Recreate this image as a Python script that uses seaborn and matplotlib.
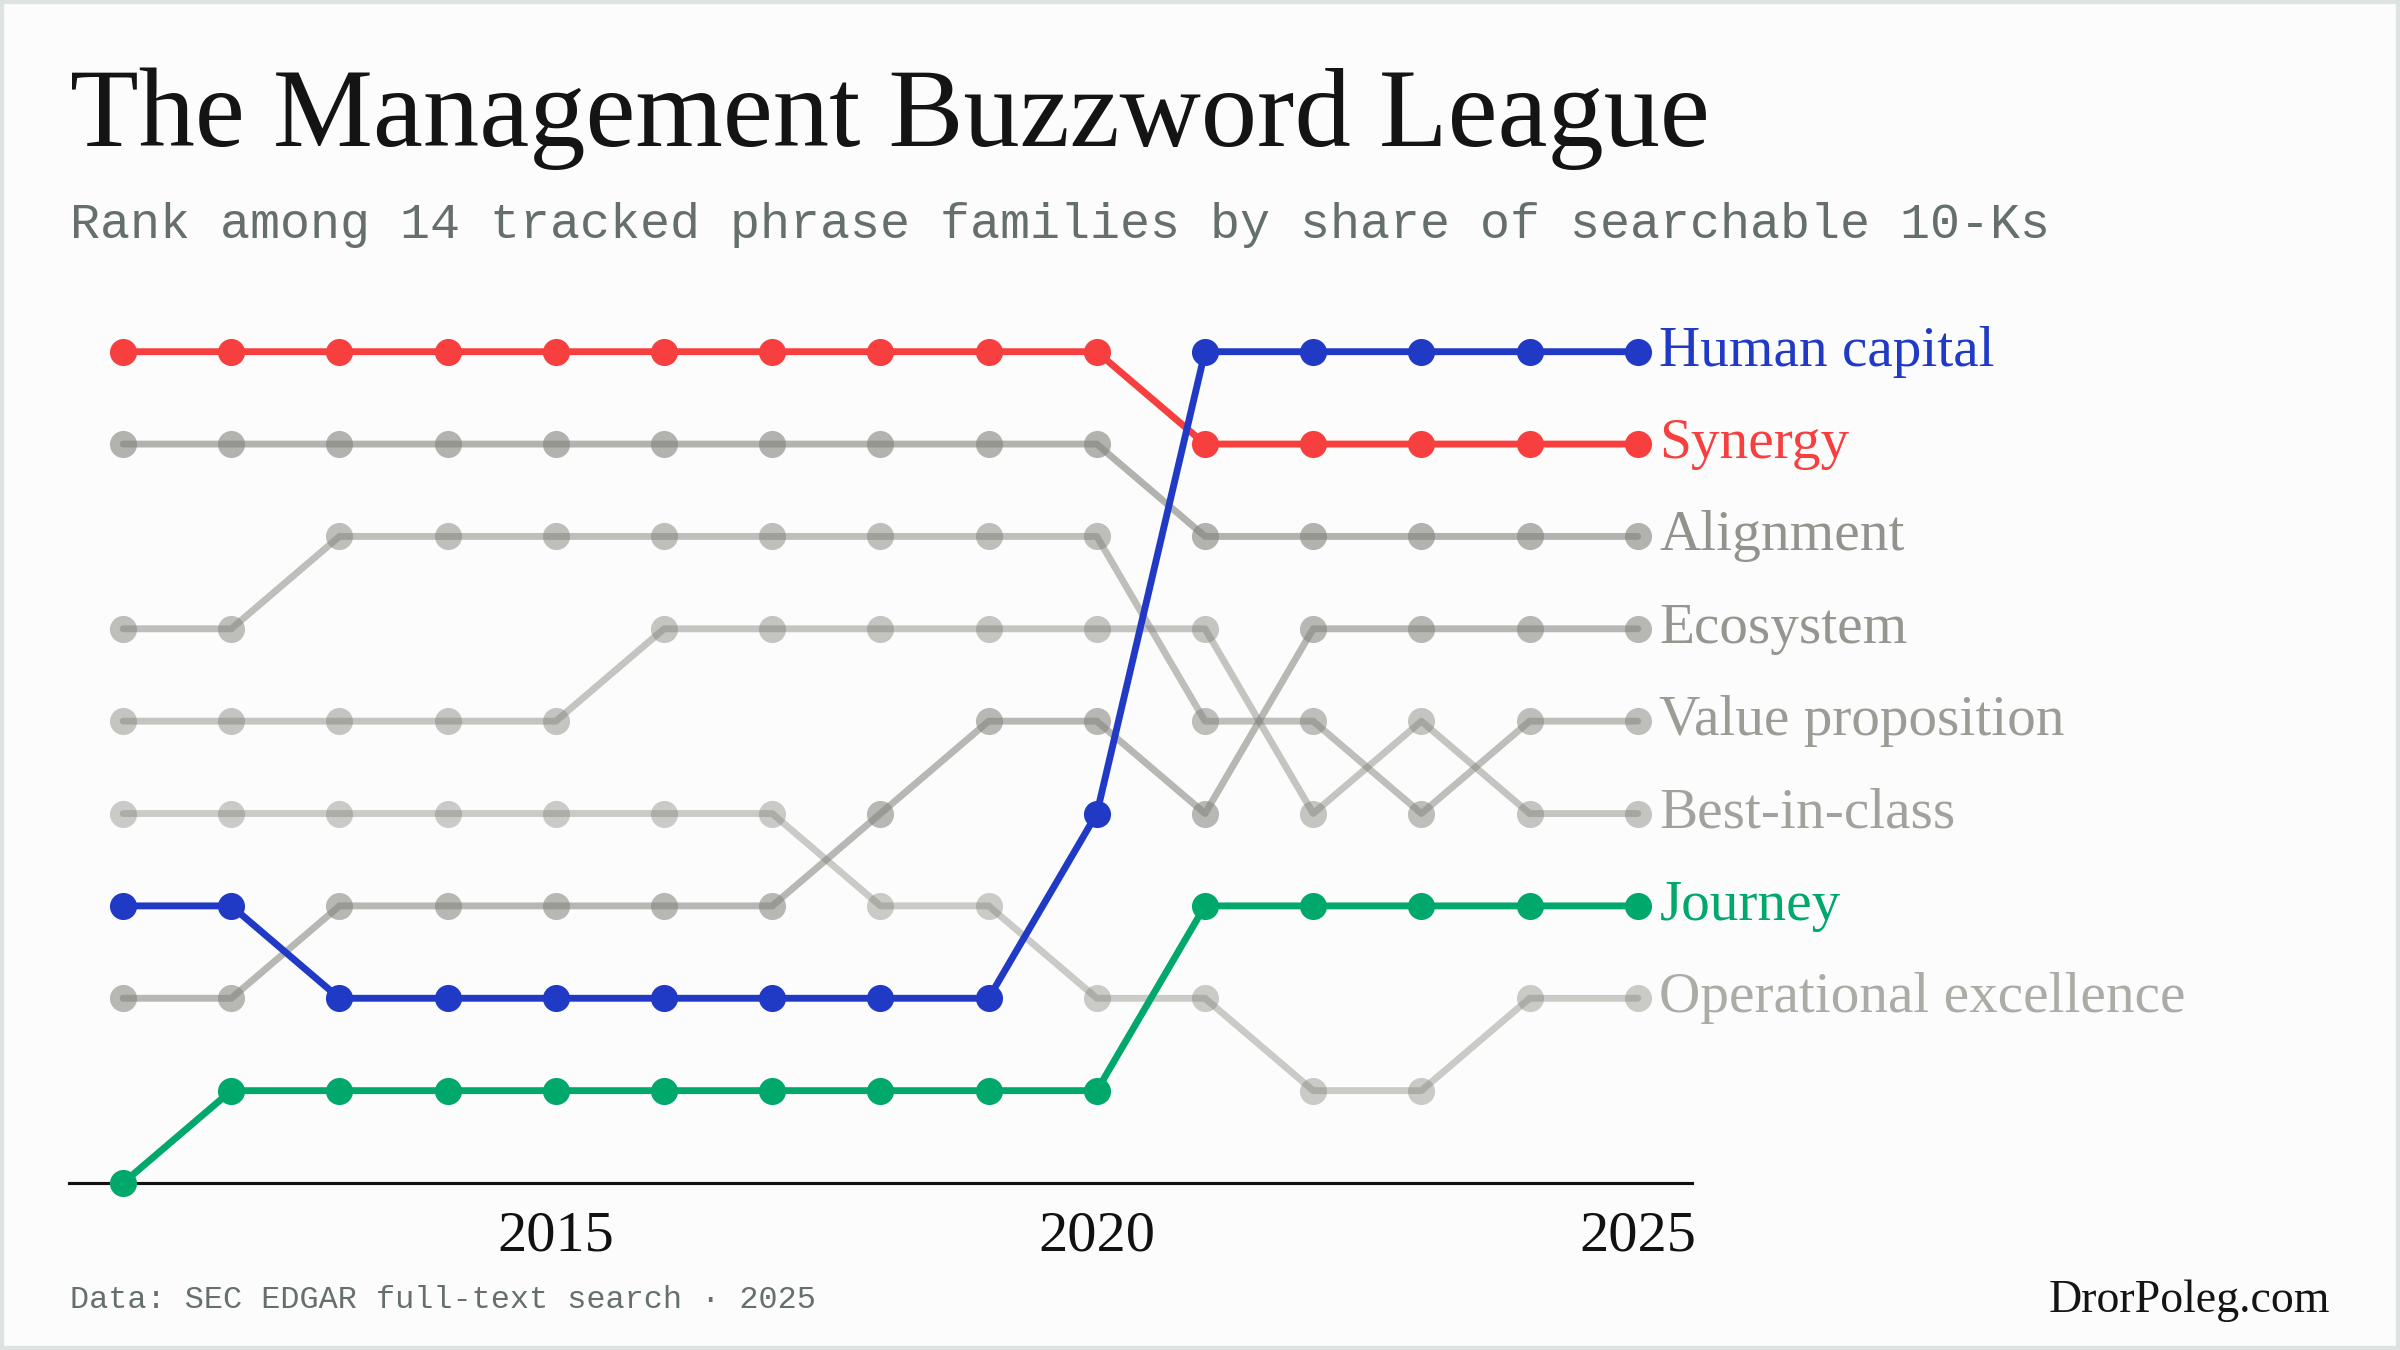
import pandas as pd
import seaborn as sns
import matplotlib.pyplot as plt
from matplotlib.patches import Rectangle

# --- Data: rank by year (1 = most used) ---
years = list(range(2011, 2026))

human_capital = [7, 7, 8, 8, 8, 8, 8, 8, 8, 6, 1, 1, 1, 1, 1]
synergy = [1, 1, 1, 1, 1, 1, 1, 1, 1, 1, 2, 2, 2, 2, 2]
journey = [10, 9, 9, 9, 9, 9, 9, 9, 9, 9, 7, 7, 7, 7, 7]
alignment = [2, 2, 2, 2, 2, 2, 2, 2, 2, 2, 3, 3, 3, 3, 3]
ecosystem = [8, 8, 7, 7, 7, 7, 7, 6, 5, 5, 6, 4, 4, 4, 4]
value_prop = [4, 4, 3, 3, 3, 3, 3, 3, 3, 3, 5, 5, 6, 5, 5]
best_in_class = [5, 5, 5, 5, 5, 4, 4, 4, 4, 4, 4, 6, 5, 6, 6]
op_excellence = [6, 6, 6, 6, 6, 6, 6, 7, 7, 8, 8, 9, 9, 8, 8]

series = {
    "Alignment": alignment,
    "Ecosystem": ecosystem,
    "Value proposition": value_prop,
    "Best-in-class": best_in_class,
    "Operational excellence": op_excellence,
    "Journey": journey,
    "Synergy": synergy,
    "Human capital": human_capital,
}

colors = {
    "Human capital": "#203ac6",
    "Synergy": "#f73f3f",
    "Journey": "#00a86b",
}
grey = "#85857f"
grey_alpha = {
    "Alignment": 0.62,
    "Ecosystem": 0.58,
    "Value proposition": 0.52,
    "Best-in-class": 0.47,
    "Operational excellence": 0.42,
}
grey_label = {
    "Alignment": "#93938e",
    "Ecosystem": "#969691",
    "Value proposition": "#9c9c97",
    "Best-in-class": "#a2a29d",
    "Operational excellence": "#acaca7",
}

rows = []
for name, ranks in series.items():
    for y, r in zip(years, ranks):
        rows.append({"Year": y, "Rank": r, "Phrase": name})
df = pd.DataFrame(rows)

sns.set_theme(style="white")
plt.rcParams["font.family"] = ["Liberation Serif", "DejaVu Serif"]

bg = "#fcfcfc"
fig = plt.figure(figsize=(16, 9), dpi=150, facecolor=bg)
ax = fig.add_axes([0.02875, 0.1237, 0.6762, 0.650])
ax.set_facecolor(bg)

for name in series:
    d = df[df["Phrase"] == name]
    if name in colors:
        c, a, lc = colors[name], 1.0, colors[name]
    else:
        c, a, lc = grey, grey_alpha[name], grey_label[name]
    sns.lineplot(data=d, x="Year", y="Rank", ax=ax, color=c, alpha=a,
                 linewidth=3.3, marker="o", markersize=13, markeredgewidth=0,
                 legend=False, clip_on=False, zorder=3)
    ax.text(years[-1] + 0.2, series[name][-1], name, color=lc,
            fontsize=27.5, va="center", ha="left", clip_on=False)

ax.set_xlim(2010.5, 2025.5)
ax.set_ylim(10, 0.5)
ax.set_xticks([2015, 2020, 2025])
ax.set_xticklabels(["2015", "2020", "2025"], fontsize=28, color="#111111")
ax.set_yticks([])
ax.set_xlabel("")
ax.set_ylabel("")
ax.tick_params(axis="x", length=0, pad=13)
for s in ["top", "left", "right"]:
    ax.spines[s].set_visible(False)
ax.spines["bottom"].set_color("#111111")
ax.spines["bottom"].set_linewidth(1.5)
ax.spines["bottom"].set_zorder(1)

# --- Titles and footer ---
fig.text(0.029, 0.892, "The Management Buzzword League", fontsize=54,
         color="#141414", ha="left", va="baseline")
fig.text(0.029, 0.824, "Rank among 14 tracked phrase families by share of searchable 10-Ks",
         fontsize=24, color="#65706d", ha="left", va="baseline",
         family=["Liberation Mono", "DejaVu Sans Mono"])
fig.text(0.029, 0.031, "Data: SEC EDGAR full-text search \u00b7 2025", fontsize=15.3,
         color="#65706d", ha="left", va="baseline",
         family=["Liberation Mono", "DejaVu Sans Mono"])
fig.text(0.971, 0.028, "DrorPoleg.com", fontsize=22, color="#141414",
         ha="right", va="baseline")

fig.patches.append(Rectangle((0, 0), 1, 1, transform=fig.transFigure,
                             fill=False, edgecolor="#dde3e1", linewidth=4))

plt.savefig("out.png", dpi=150, facecolor=bg)
plt.close()
